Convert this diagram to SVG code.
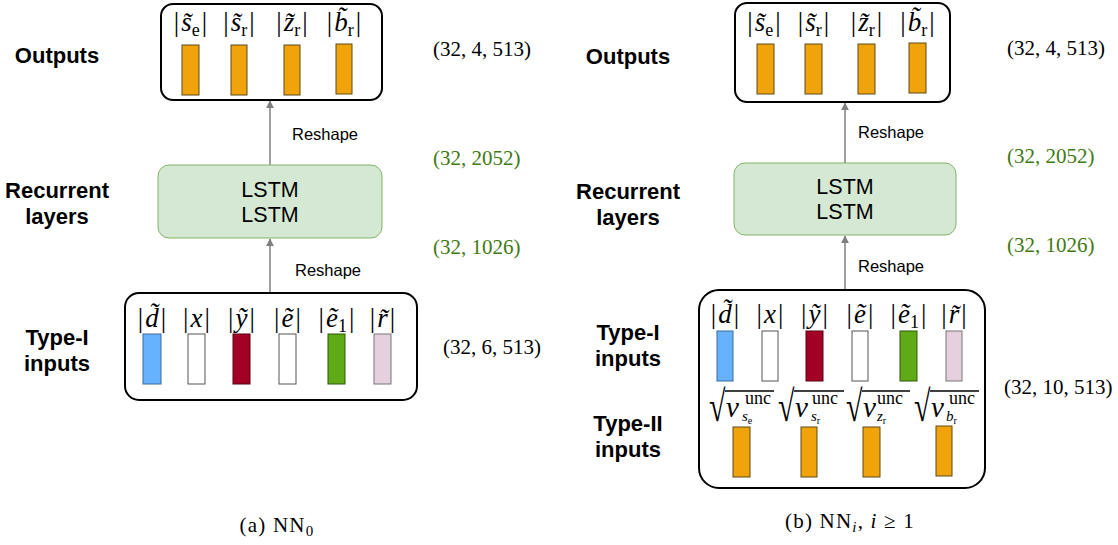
<svg xmlns="http://www.w3.org/2000/svg" width="1118" height="545" viewBox="0 0 1118 545">
<defs>
<style>
.box{fill:#fff;stroke:#000;stroke-width:2}
.lstm{fill:#d5e8d4;stroke:#82b366;stroke-width:1}
.or{fill:#f0a30a;stroke:#5a4a1a;stroke-width:1}
.bl{fill:#66b2ff;stroke:#3a6a9a;stroke-width:1}
.wh{fill:#fff;stroke:#555;stroke-width:1}
.rd{fill:#a20025;stroke:#5a0015;stroke-width:1}
.gr{fill:#60a917;stroke:#2d5a0a;stroke-width:1}
.pk{fill:#e6d0de;stroke:#777;stroke-width:1}
.lab{font-family:"Liberation Sans",Arial,sans-serif;font-weight:bold;font-size:22px;fill:#000;text-anchor:middle}
.ls{font-family:"Liberation Sans",Arial,sans-serif;font-size:21.5px;fill:#000;text-anchor:middle}
.rs{font-family:"Liberation Sans",Arial,sans-serif;font-size:16.5px;fill:#000}
.m{font-family:"Liberation Serif","Times New Roman",serif;font-size:27px;fill:#000;text-anchor:middle}
.i{font-style:italic}
.sb{font-size:18px}
.dim{font-family:"Liberation Serif","Times New Roman",serif;font-size:21px;fill:#000}
.dg{fill:#3f7a12}
.cap{font-family:"Liberation Serif","Times New Roman",serif;font-size:21px;letter-spacing:1.2px;fill:#000;text-anchor:middle}
.ar{stroke:#808080;stroke-width:1.5;fill:none}
.sq{font-family:"Liberation Serif","Times New Roman",serif;fill:#000}
.vin{stroke:#000;stroke-width:1.3}
</style>
<marker id="ah" viewBox="0 0 10 10" refX="9" refY="5" markerWidth="8" markerHeight="8" markerUnits="userSpaceOnUse" orient="auto">
<path d="M0,0 L10,5 L0,10 z" fill="#808080"/>
</marker>
</defs>

<!-- connectors -->
<g id="connectors">
<line class="ar" x1="270" y1="165" x2="270" y2="101" marker-end="url(#ah)"/>
<line class="ar" x1="270" y1="293" x2="270" y2="239" marker-end="url(#ah)"/>
<line class="ar" x1="845" y1="163" x2="845" y2="103" marker-end="url(#ah)"/>
<line class="ar" x1="845" y1="290" x2="845" y2="236" marker-end="url(#ah)"/>
<text class="rs" x="292" y="140">Reshape</text>
<text class="rs" x="295" y="276">Reshape</text>
<text class="rs" x="858" y="138">Reshape</text>
<text class="rs" x="858" y="272">Reshape</text>
</g>

<!-- Left panel -->
<g id="labels-a">
<text class="lab" x="57" y="63">Outputs</text>
<text class="lab" x="57" y="198">Recurrent</text>
<text class="lab" x="57" y="224">layers</text>
<text class="lab" x="57" y="345">Type-I</text>
<text class="lab" x="57" y="371">inputs</text>
</g>

<g id="outputs-a">
<rect class="box" x="161" y="4" width="221" height="96" rx="12"/>
<rect class="or" x="182" y="45" width="17" height="50"/>
<rect class="or" x="231" y="45" width="16" height="50"/>
<rect class="or" x="284" y="45" width="16" height="50"/>
<rect class="or" x="336" y="44" width="16" height="50"/>
<text class="m" x="190.5" y="31">|<tspan class="i" dx="2">s&#771;</tspan><tspan class="sb" dy="5">e</tspan><tspan dy="-5" dx="2">|</tspan></text>
<text class="m" x="239" y="31">|<tspan class="i" dx="2">s&#771;</tspan><tspan class="sb" dy="5">r</tspan><tspan dy="-5" dx="2">|</tspan></text>
<text class="m" x="292" y="31">|<tspan class="i" dx="2">z&#771;</tspan><tspan class="sb" dy="5">r</tspan><tspan dy="-5" dx="2">|</tspan></text>
<text class="m" x="344" y="31">|<tspan class="i" dx="2">b&#771;</tspan><tspan class="sb" dy="5">r</tspan><tspan dy="-5" dx="2">|</tspan></text>
</g>

<g id="lstm-a">
<rect class="lstm" x="158" y="165" width="224" height="73" rx="11"/>
<text class="ls" x="270" y="197">LSTM</text>
<text class="ls" x="270" y="222">LSTM</text>
</g>

<g id="inputs-a">
<rect class="box" x="125" y="293" width="292" height="107" rx="14"/>
<rect class="bl" x="143" y="334" width="18" height="50"/>
<rect class="wh" x="188" y="334" width="17" height="50"/>
<rect class="rd" x="233" y="334" width="17" height="50"/>
<rect class="wh" x="279" y="334" width="17" height="50"/>
<rect class="gr" x="328" y="334" width="17" height="50"/>
<rect class="pk" x="374" y="334" width="17" height="50"/>
<text class="m" x="152" y="327">|<tspan class="i" dx="2">d&#771;</tspan><tspan dx="2">|</tspan></text>
<text class="m" x="196.5" y="327">|<tspan class="i" dx="2">x</tspan><tspan dx="2">|</tspan></text>
<text class="m" x="241.5" y="327">|<tspan class="i" dx="2">y&#771;</tspan><tspan dx="2">|</tspan></text>
<text class="m" x="287.5" y="327">|<tspan class="i" dx="2">e&#771;</tspan><tspan dx="2">|</tspan></text>
<text class="m" x="336.5" y="327">|<tspan class="i" dx="2">e&#771;</tspan><tspan class="sb" dy="5">1</tspan><tspan dy="-5" dx="2">|</tspan></text>
<text class="m" x="382.5" y="327">|<tspan class="i" dx="2">r&#771;</tspan><tspan dx="2">|</tspan></text>
</g>

<g id="dims-a">
<text class="dim" x="433" y="56">(32, 4, 513)</text>
<text class="dim dg" x="433" y="165">(32, 2052)</text>
<text class="dim dg" x="433" y="254">(32, 1026)</text>
<text class="dim" x="443" y="354">(32, 6, 513)</text>
</g>

<text class="cap" x="277" y="532">(a) NN<tspan font-size="15" dy="4">0</tspan></text>

<!-- Right panel -->
<g id="labels-b">
<text class="lab" x="628" y="64">Outputs</text>
<text class="lab" x="628" y="199">Recurrent</text>
<text class="lab" x="628" y="225">layers</text>
<text class="lab" x="628" y="340">Type-I</text>
<text class="lab" x="628" y="366">inputs</text>
<text class="lab" x="628" y="431">Type-II</text>
<text class="lab" x="628" y="457">inputs</text>
</g>

<g id="outputs-b">
<rect class="box" x="735" y="3" width="215" height="99" rx="12"/>
<rect class="or" x="757" y="44" width="17" height="50"/>
<rect class="or" x="805" y="44" width="17" height="50"/>
<rect class="or" x="858" y="44" width="17" height="50"/>
<rect class="or" x="909" y="43" width="17" height="50"/>
<text class="m" x="764" y="31">|<tspan class="i" dx="2">s&#771;</tspan><tspan class="sb" dy="5">e</tspan><tspan dy="-5" dx="2">|</tspan></text>
<text class="m" x="813.5" y="31">|<tspan class="i" dx="2">s&#771;</tspan><tspan class="sb" dy="5">r</tspan><tspan dy="-5" dx="2">|</tspan></text>
<text class="m" x="866.5" y="31">|<tspan class="i" dx="2">z&#771;</tspan><tspan class="sb" dy="5">r</tspan><tspan dy="-5" dx="2">|</tspan></text>
<text class="m" x="917.5" y="31">|<tspan class="i" dx="2">b&#771;</tspan><tspan class="sb" dy="5">r</tspan><tspan dy="-5" dx="2">|</tspan></text>
</g>

<g id="lstm-b">
<rect class="lstm" x="734" y="163" width="222" height="72" rx="11"/>
<text class="ls" x="845" y="194">LSTM</text>
<text class="ls" x="845" y="219">LSTM</text>
</g>

<g id="inputs-b">
<rect class="box" x="699" y="290" width="286" height="198" rx="20"/>
<rect class="bl" x="717" y="331" width="16" height="50"/>
<rect class="wh" x="762" y="331" width="16" height="50"/>
<rect class="rd" x="806" y="331" width="17" height="50"/>
<rect class="wh" x="852" y="331" width="16" height="50"/>
<rect class="gr" x="900" y="331" width="17" height="50"/>
<rect class="pk" x="946" y="331" width="16" height="50"/>
<text class="m" x="725" y="323">|<tspan class="i" dx="2">d&#771;</tspan><tspan dx="2">|</tspan></text>
<text class="m" x="770" y="323">|<tspan class="i" dx="2">x</tspan><tspan dx="2">|</tspan></text>
<text class="m" x="814.5" y="323">|<tspan class="i" dx="2">y&#771;</tspan><tspan dx="2">|</tspan></text>
<text class="m" x="860" y="323">|<tspan class="i" dx="2">e&#771;</tspan><tspan dx="2">|</tspan></text>
<text class="m" x="908.5" y="323">|<tspan class="i" dx="2">e&#771;</tspan><tspan class="sb" dy="5">1</tspan><tspan dy="-5" dx="2">|</tspan></text>
<text class="m" x="954" y="323">|<tspan class="i" dx="2">r&#771;</tspan><tspan dx="2">|</tspan></text>

<g id="sqrt-se">
<text class="sq" transform="translate(709,421) scale(1,1.45)" font-size="30">√</text>
<line class="vin" x1="725" y1="391" x2="774" y2="391"/>
<text class="sq i" x="726" y="417" font-size="29">v</text>
<text class="sq" x="745" y="404" font-size="18">unc</text>
<text class="sq i" x="742" y="421" font-size="15">s<tspan font-style="normal" font-size="10" dy="3">e</tspan></text>
</g>
<g id="sqrt-sr">
<text class="sq" transform="translate(778,421) scale(1,1.45)" font-size="30">√</text>
<line class="vin" x1="794" y1="391" x2="844" y2="391"/>
<text class="sq i" x="795" y="417" font-size="29">v</text>
<text class="sq" x="812" y="404" font-size="18">unc</text>
<text class="sq i" x="811" y="421" font-size="15">s<tspan font-style="normal" font-size="10" dy="3">r</tspan></text>
</g>
<g id="sqrt-zr">
<text class="sq" transform="translate(846,421) scale(1,1.45)" font-size="30">√</text>
<line class="vin" x1="862" y1="391" x2="910" y2="391"/>
<text class="sq i" x="863" y="417" font-size="29">v</text>
<text class="sq" x="877" y="404" font-size="18">unc</text>
<text class="sq i" x="877" y="421" font-size="15">z<tspan font-style="normal" font-size="10" dy="3">r</tspan></text>
</g>
<g id="sqrt-br">
<text class="sq" transform="translate(914,421) scale(1,1.45)" font-size="30">√</text>
<line class="vin" x1="930" y1="391" x2="979" y2="391"/>
<text class="sq i" x="931" y="417" font-size="29">v</text>
<text class="sq" x="949" y="404" font-size="18">unc</text>
<text class="sq i" x="946" y="421" font-size="15">b<tspan font-style="normal" font-size="10" dy="3">r</tspan></text>
</g>

<rect class="or" x="733" y="427" width="17" height="50"/>
<rect class="or" x="801" y="427" width="16" height="50"/>
<rect class="or" x="863" y="427" width="17" height="50"/>
<rect class="or" x="936" y="426" width="16" height="50"/>
</g>

<g id="dims-b">
<text class="dim" x="1007" y="55">(32, 4, 513)</text>
<text class="dim dg" x="1007" y="163">(32, 2052)</text>
<text class="dim dg" x="1007" y="252">(32, 1026)</text>
<text class="dim" x="1004" y="394">(32, 10, 513)</text>
</g>

<text class="cap" x="850" y="528">(b) NN<tspan class="i" font-size="15" dy="4">i</tspan><tspan dy="-4">, </tspan><tspan class="i">i</tspan> ≥ 1</text>
</svg>
